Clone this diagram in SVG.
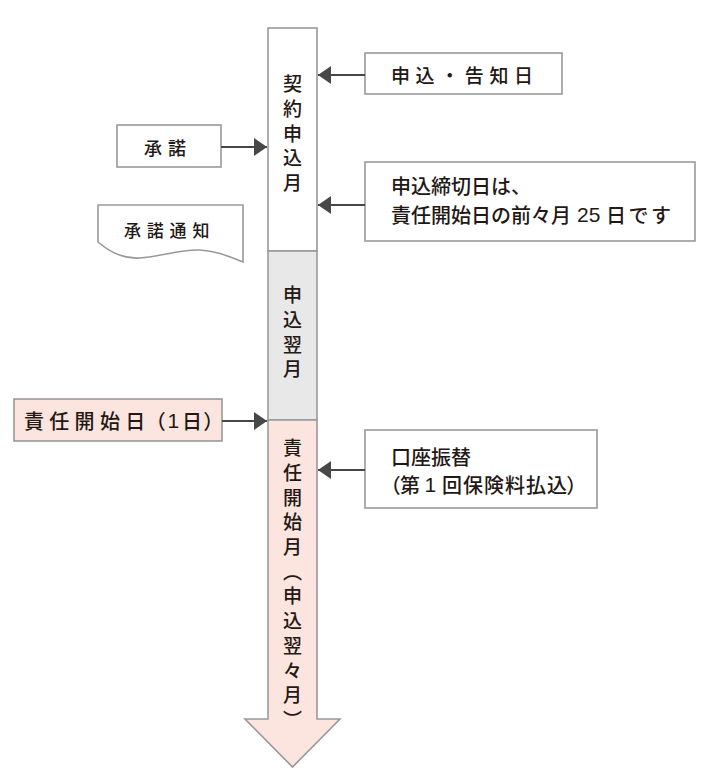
<svg xmlns="http://www.w3.org/2000/svg" width="709" height="784" viewBox="0 0 709 784">
<style>
text{font-family:"Noto Sans CJK JP","Noto Sans",sans-serif;fill:#231815;dominant-baseline:central;font-weight:500}
.lat{font-family:"Liberation Sans",Arial,sans-serif}
.p{font-feature-settings:"palt"}
.box{fill:#fff;stroke:#999;stroke-width:1.6}
.pink{fill:#fce5df;stroke:#999;stroke-width:1.6}
.gray{fill:#e8e8e8;stroke:#999;stroke-width:1.6}
.vt{writing-mode:vertical-rl;font-size:19px;letter-spacing:5.7px}
.conn line{stroke:#474747;stroke-width:2}
</style>
<defs>
<marker id="ah" viewBox="0 0 13 18" refX="13" refY="9" markerWidth="13" markerHeight="18" markerUnits="userSpaceOnUse" orient="auto">
<path d="M0,0 L13,9 L0,18 Z" fill="#474747"/>
</marker>
</defs>
<rect width="709" height="784" fill="#fff"/>
<g id="timeline">
<g id="month1">
<rect class="box" x="268" y="28" width="49" height="223"/>
<text class="vt" x="292.5" y="74.5">契約申込月</text>
</g>
<g id="month2">
<rect class="gray" x="268" y="251" width="49" height="169"/>
<text class="vt" x="292.5" y="285.5">申込翌月</text>
</g>
<g id="month3">
<path class="pink" d="M268,420 H317 V719 H340 L292.5,767 L245,719 H268 Z"/>
<text class="vt" x="292.5" y="438.5">責任開始月（申込翌々月）</text>
</g>
</g>
<g id="n-moushikomi">
<rect class="box" x="365" y="53" width="197" height="41"/>
<text x="391" y="74" font-size="19" letter-spacing="5.6">申込・告知日</text>
</g>
<g id="n-deadline">
<rect class="box" x="365" y="162" width="330" height="79"/>
<text x="391" y="185" font-size="20">申込締切日は、</text>
<text y="214" font-size="20"><tspan x="391">責任開始日の前々月</tspan><tspan class="lat" x="577" font-size="21">25</tspan><tspan x="606" letter-spacing="2.5">日です</tspan></text>
</g>
<g id="n-furikae">
<rect class="box" x="365" y="430" width="232" height="78"/>
<text x="391" y="456" font-size="20">口座振替</text>
<text y="484" font-size="20"><tspan class="p" x="390">（</tspan><tspan x="400">第</tspan><tspan class="lat" x="424.5" font-size="21">1</tspan><tspan x="442" letter-spacing="1">回保険料払込</tspan><tspan class="p" x="567">）</tspan></text>
</g>
<g id="n-shodaku">
<rect class="box" x="117" y="125" width="104" height="42"/>
<text x="144" y="147" font-size="18" letter-spacing="6">承諾</text>
</g>
<g id="n-tsuchi">
<path class="box" d="M98,205 H243 V262 C230,257 218,251 200,250 C180,249 160,257 140,258 C125,259 112,254 98,242 Z"/>
<text x="124" y="229" font-size="17" letter-spacing="5.8">承諾通知</text>
</g>
<g id="n-start">
<rect class="pink" x="14" y="399" width="208" height="42"/>
<text y="420" font-size="20"><tspan x="24" letter-spacing="5.3">責任開始</tspan><tspan x="125.2">日</tspan><tspan class="p" x="155">（</tspan><tspan class="lat" x="167.5" font-size="21">1</tspan><tspan x="182">日</tspan><tspan class="p" x="204">）</tspan></text>
</g>
<g id="connectors" class="conn">
<line x1="365" y1="75" x2="318" y2="75" marker-end="url(#ah)"/>
<line x1="365" y1="205" x2="318" y2="205" marker-end="url(#ah)"/>
<line x1="365" y1="470" x2="318" y2="470" marker-end="url(#ah)"/>
<line x1="221" y1="147" x2="267" y2="147" marker-end="url(#ah)"/>
<line x1="222" y1="421" x2="267" y2="421" marker-end="url(#ah)"/>
</g>
</svg>
